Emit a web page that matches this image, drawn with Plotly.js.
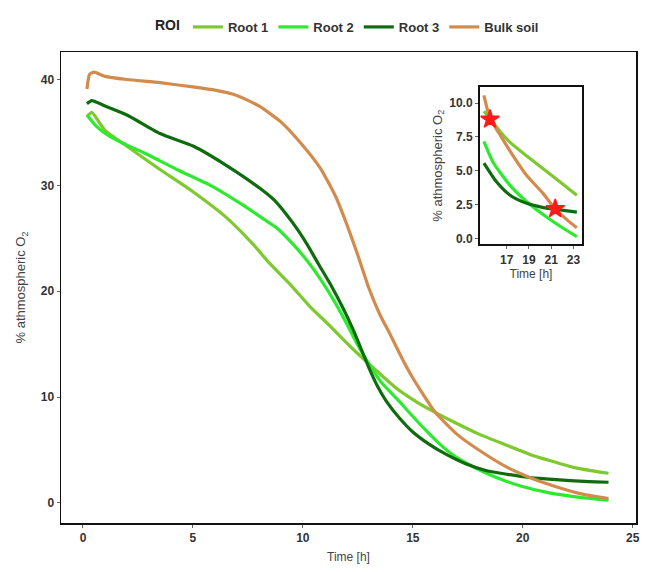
<!DOCTYPE html>
<html>
<head>
<meta charset="utf-8">
<script src="https://cdn.plot.ly/plotly-3.0.1.min.js"></script>
<style>html,body{margin:0;padding:0;background:#fff;}#chart{width:649px;height:572px;}</style>
</head>
<body>
<div id="chart"></div>
<script>
// Main panel data
const seriesNames = ["Root 1", "Root 2", "Root 3", "Bulk soil"];
const seriesColors = ["#7DC92E", "#2EEA2E", "#0E6B0E", "#D38B4D"];

const root1T = [0.18, 0.4, 1.0, 2.0, 3.5, 5.0, 6.5, 7.75, 8.5, 9.4, 10.3, 11.24, 12.0, 12.75, 13.5, 14.27, 15.2, 16.1, 17.0, 18.06, 19.2, 20.3, 21.3, 22.3, 23.1, 23.9];
const root1V = [36.5, 36.9, 35.2, 33.7, 31.5, 29.4, 27.0, 24.4, 22.6, 20.7, 18.6, 16.7, 15.1, 13.6, 12.2, 10.8, 9.5, 8.46, 7.5, 6.45, 5.5, 4.6, 3.95, 3.35, 3.05, 2.8];

const root2T = [0.18, 0.6, 1.24, 2.0, 2.75, 4.27, 5.8, 7.3, 8.3, 8.8, 9.57, 10.3, 10.94, 11.5, 12.0, 12.5, 13.06, 13.6, 14.27, 14.9, 15.5, 16.2, 17.0, 17.9, 18.8, 19.9, 21.1, 22.5, 23.9];
const root2V = [36.65, 35.6, 34.6, 33.8, 33.1, 31.5, 30.0, 28.1, 26.7, 26.0, 24.4, 22.6, 20.7, 18.8, 16.9, 14.9, 12.95, 11.3, 9.85, 8.4, 7.06, 5.6, 4.27, 3.25, 2.4, 1.6, 1.0, 0.55, 0.25];

const root3T = [0.18, 0.4, 1.0, 2.0, 3.5, 5.03, 6.55, 8.06, 8.7, 9.27, 9.8, 10.2, 10.7, 11.24, 11.8, 12.3, 12.7, 13.06, 13.4, 13.8, 14.4, 15.0, 15.7, 16.5, 17.4, 18.36, 19.3, 20.3, 21.2, 22.15, 23.0, 23.9];
const root3V = [37.7, 38.0, 37.5, 36.65, 34.9, 33.7, 31.85, 29.7, 28.6, 27.2, 25.7, 24.4, 22.6, 20.7, 18.5, 16.3, 14.3, 12.5, 11.0, 9.6, 8.0, 6.7, 5.6, 4.6, 3.7, 3.04, 2.7, 2.4, 2.25, 2.1, 2.0, 1.95];

const bulkT = [0.18, 0.3, 0.5, 1.0, 2.0, 3.5, 5.0, 6.0, 7.0, 8.0, 9.0, 9.9, 10.8, 11.5, 12.0, 12.5, 13.0, 13.5, 14.0, 14.5, 15.0, 16.0, 17.0, 18.0, 19.3, 20.2, 21.1, 22.6, 23.9];
const bulkV = [39.1, 40.5, 40.7, 40.3, 40.0, 39.7, 39.3, 39.0, 38.5, 37.5, 36.0, 34.0, 31.6, 28.9, 26.3, 23.4, 20.3, 17.8, 15.8, 13.7, 11.8, 8.6, 6.5, 5.0, 3.35, 2.5, 1.8, 0.87, 0.4];

// Inset panel data
const insetRoot1T = [14.95, 15.5, 16.4, 17.3, 18.8, 20.3, 21.8, 23.3];
const insetRoot1V = [9.4, 8.87, 7.9, 7.1, 6.1, 5.13, 4.17, 3.2];
const insetRoot2T = [14.95, 15.8, 17.3, 18.8, 20.3, 21.8, 23.3];
const insetRoot2V = [7.18, 5.6, 3.93, 2.72, 1.76, 0.91, 0.14];
const insetRoot3T = [14.95, 16.1, 17.3, 18.8, 20.3, 21.8, 23.3];
const insetRoot3V = [5.57, 4.17, 3.2, 2.6, 2.29, 2.12, 1.95];
const insetBulkT = [14.95, 15.5, 16.4, 17.3, 18.8, 20.3, 21.36, 22.4, 23.3];
const insetBulkV = [10.56, 8.87, 7.66, 6.46, 4.65, 3.3, 2.17, 1.4, 0.8];
const starT = [15.5, 21.36];
const starV = [8.8, 2.2];

const mainX = [root1T, root2T, root3T, bulkT];
const mainY = [root1V, root2V, root3V, bulkV];
const insetX = [insetRoot1T, insetRoot2T, insetRoot3T, insetBulkT];
const insetY = [insetRoot1V, insetRoot2V, insetRoot3V, insetBulkV];

const traces = [];
for (let i = 0; i < 4; i++) {
  traces.push({
    x: mainX[i], y: mainY[i], type: 'scatter', mode: 'lines', name: seriesNames[i],
    line: {color: seriesColors[i], width: 3.2, shape: 'spline', smoothing: 0.5},
    xaxis: 'x', yaxis: 'y'
  });
}
for (let i = 0; i < 4; i++) {
  traces.push({
    x: insetX[i], y: insetY[i], type: 'scatter', mode: 'lines', showlegend: false,
    line: {color: seriesColors[i], width: 3.2, shape: 'spline', smoothing: 0.6},
    xaxis: 'x2', yaxis: 'y2'
  });
}
traces.push({
  x: starT, y: starV, type: 'scatter', mode: 'markers', showlegend: false,
  marker: {symbol: 'star', size: 14, color: '#FF1A1A', line: {color: '#FF1A1A', width: 1.5}},
  xaxis: 'x2', yaxis: 'y2'
});

const fam = 'Liberation Sans, Arial, sans-serif';
const tickFont = {family: fam, size: 12, color: '#333', weight: 'bold'};
const titleFont = {family: fam, size: 12, color: '#444'};

const layout = {
  width: 649, height: 572,
  margin: {l: 61, r: 13, t: 42, b: 49},
  paper_bgcolor: '#fff', plot_bgcolor: '#fff',
  showlegend: true,
  legend: {
    orientation: 'h', x: 0.5, xanchor: 'center', y: 1.085, yanchor: 'top',
    title: {text: '<b>ROI</b>', font: {family: fam, size: 14, color: '#222'}},
    font: {family: fam, size: 13, color: '#333', weight: 'bold'},
    itemwidth: 30, tracegroupgap: 0
  },
  xaxis: {
    domain: [0, 1], range: [-1.0, 25.15], tickvals: [0, 5, 10, 15, 20, 25],
    showgrid: false, zeroline: false, showline: true, mirror: true, linecolor: '#111', linewidth: 1.5,
    ticks: 'outside', ticklen: 3, tickcolor: '#666', tickwidth: 1,
    tickfont: tickFont,
    title: {text: 'Time [h]', font: titleFont, standoff: 8}
  },
  yaxis: {
    domain: [0, 1], range: [-1.9, 42.6], tickvals: [0, 10, 20, 30, 40],
    showgrid: false, zeroline: false, showline: true, mirror: true, linecolor: '#111', linewidth: 1.5,
    ticks: 'outside', ticklen: 3, tickcolor: '#666', tickwidth: 1,
    tickfont: tickFont,
    title: {text: '% athmospheric O<sub>2</sub>', font: {family: fam, size: 13, color: '#444'}, standoff: 12}
  },
  xaxis2: {
    domain: [0.7287, 0.906], anchor: 'y2', range: [14.6, 23.76], tickvals: [17, 19, 21, 23],
    showgrid: false, zeroline: false, showline: true, mirror: true, linecolor: '#111', linewidth: 2,
    ticks: 'outside', ticklen: 3, tickcolor: '#666',
    tickfont: tickFont,
    title: {text: 'Time [h]', font: titleFont, standoff: 4}
  },
  yaxis2: {
    domain: [0.592, 0.925], anchor: 'x2', range: [-0.41, 11.16], tickvals: [0, 2.5, 5, 7.5, 10],
    ticktext: ['0.0', '2.5', '5.0', '7.5', '10.0'],
    showgrid: false, zeroline: false, showline: true, mirror: true, linecolor: '#111', linewidth: 2,
    ticks: 'outside', ticklen: 3, tickcolor: '#666',
    tickfont: tickFont,
    title: {text: '% athmospheric O<sub>2</sub>', font: {family: fam, size: 13, color: '#444'}, standoff: 4}
  }
};

Plotly.newPlot('chart', traces, layout, {displayModeBar: false, staticPlot: true});
</script>
</body>
</html>
